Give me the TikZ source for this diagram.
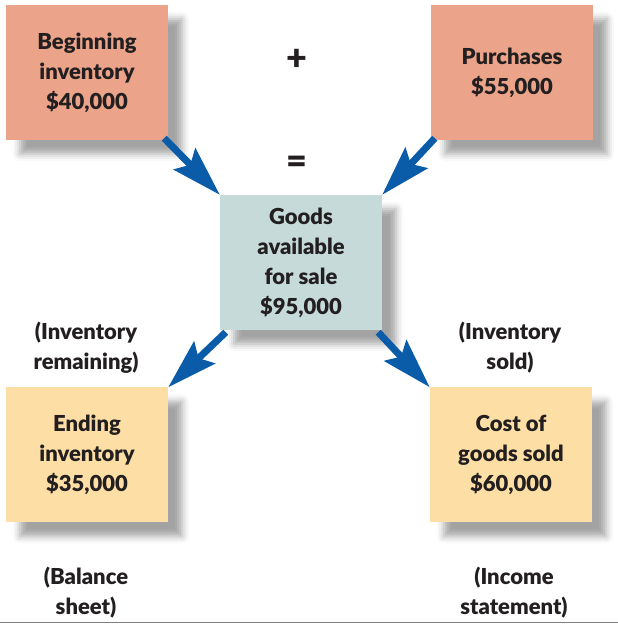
\documentclass[tikz,border=0pt]{standalone}
\usepackage{fontspec}
\setmainfont{Lato}[BoldFont={Lato Black}]
\usetikzlibrary{arrows.meta,shadows.blur}
\definecolor{boxsalmon}{HTML}{EBA48A}
\definecolor{boxteal}{HTML}{C6DADA}
\definecolor{boxpeach}{HTML}{FDDFA6}
\definecolor{arrowblue}{HTML}{0A5CA8}
\definecolor{inktext}{HTML}{231F20}
\begin{document}
\begin{tikzpicture}[x=1pt, y=1pt,
		every node/.style={text=inktext, font=\fontsize{22}{30}\selectfont\bfseries, align=center},
		card/.style={minimum width=162pt, minimum height=135pt, inner sep=0pt,
			blur shadow={shadow xshift=14pt, shadow yshift=-14pt, shadow blur radius=7pt, shadow opacity=36}},
		sign/.style={font=\fontsize{36}{36}\selectfont\bfseries},
		flow/.style={draw=arrowblue, line width=7pt, -{Stealth[length=50pt, width=30pt, inset=8pt]}}]
			\useasboundingbox (0,0) rectangle (618,627);
			% boxes
			\node[card, fill=boxsalmon] (begin) at (87,554.5) {Beginning\\inventory\\\$40,000};
			\node[card, fill=boxsalmon] (purch) at (512,554.5) {Purchases\\\$55,000};
			\node[card, fill=boxteal] (goods) at (301,364.5) {Goods\\available\\for sale\\\$95,000};
			\node[card, fill=boxpeach] (ending) at (87,172) {Ending\\inventory\\\$35,000};
			\node[card, fill=boxpeach] (cogs) at (511,172) {Cost of\\goods sold\\\$60,000};
			% signs and captions
			\node[sign] (plus) at (297,567) {+};
			\node[sign] (equals) at (297,462) {=};
			\node (remain) at (86,279.5) {(Inventory\\remaining)};
			\node (sold) at (510,279.5) {(Inventory\\sold)};
			\node (balance) at (86,34.5) {(Balance\\sheet)};
			\node (income) at (514,34.5) {(Income\\statement)};
			% arrows
			\draw[flow] ([shift={(-4,2)}]begin.south east) -- (goods.north west);
			\draw[flow] ([shift={(4,2)}]purch.south west) -- (goods.north east);
			\draw[flow] ([shift={(6,-2)}]goods.south west) -- (ending.north east);
			\draw[flow] ([shift={(-4,-2)}]goods.south east) -- (cogs.north west);
			\draw[gray, line width=1.5pt] (0,4.5) -- (618,4.5);
		\end{tikzpicture}
\end{document}
